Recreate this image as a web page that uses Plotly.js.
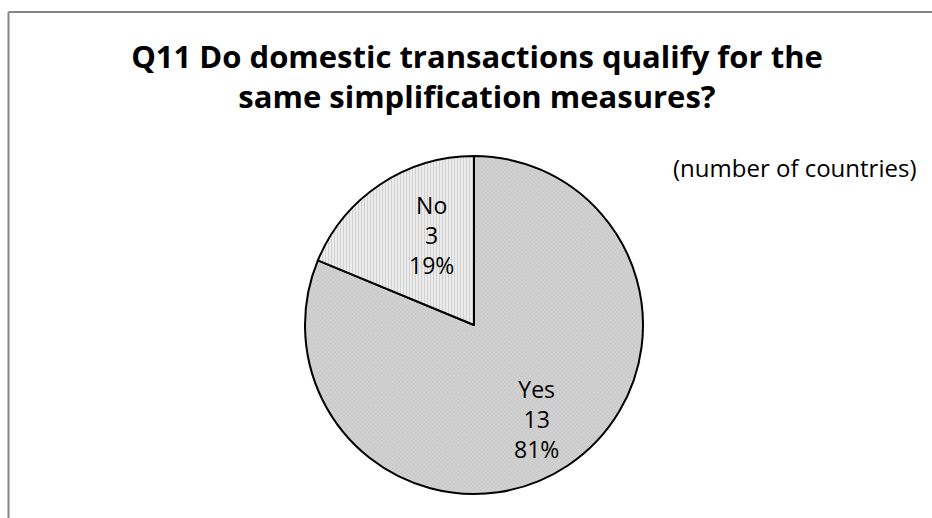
<!DOCTYPE html>
<html>
<head>
<meta charset="utf-8">
<script src="https://cdn.plot.ly/plotly-3.0.1.min.js"></script>
<style>html,body{margin:0;padding:0;background:#fff;}#chart{width:932px;height:518px;}</style>
</head>
<body>
<div id="chart"></div>
<script>
const categories = ["Yes", "No"];
const counts = [13, 3];
const sliceColors = ["#d2d2d2", "#ececec"];
const titleText = "Q11 Do domestic transactions qualify for the<br>same simplification measures?";
const unitNote = "(number of countries)";

const W = 932, H = 518;
// pie placement (pixels) -> paper domain
const cx = 474, cy = 325, R = 169;
const labelRadius = [0.67, 0.59];
const labelAngleShift = [0, 8.5]; // degrees, towards 12 o'clock for the small slice

const total = counts.reduce((a, b) => a + b, 0);
const annotations = [];
let cum = 0;
counts.forEach((v, i) => {
  const mid = (cum + v / 2) / total * 2 * Math.PI + labelAngleShift[i] * Math.PI / 180; // clockwise from 12 o'clock
  cum += v;
  const r = R * labelRadius[i];
  const px = cx + r * Math.sin(mid), py = cy - r * Math.cos(mid);
  annotations.push({
    text: categories[i] + "<br>" + v + "<br>" + Math.round(v / total * 100) + "%",
    xref: "paper", yref: "paper", x: px / W, y: 1 - py / H,
    xanchor: "center", yanchor: "middle", showarrow: false, align: "center",
    font: {family: "Open Sans, sans-serif", size: 23, color: "#000"}
  });
});
annotations.push({text: unitNote, xref: "paper", yref: "paper", x: 918 / W, y: 1 - 167 / H,
                  xanchor: "right", yanchor: "middle", showarrow: false,
                  font: {family: "Open Sans, sans-serif", size: 24, color: "#000"}});

const trace = {
  type: "pie",
  labels: categories,
  values: counts,
  sort: false,
  direction: "clockwise",
  rotation: 0,
  marker: {
    colors: sliceColors,
    line: {color: "#000", width: 2},
    pattern: {shape: ["x", "|"], fgcolor: ["#bdbdbd", "#c8c8c8"], bgcolor: sliceColors, size: 3, solidity: 0.25, fillmode: "replace"}
  },
  textinfo: "none",
  hoverinfo: "none",
  showlegend: false,
  domain: {x: [(cx - R) / W, (cx + R) / W], y: [1 - (cy + R) / H, 1 - (cy - R) / H]}
};

const layout = {
  width: W, height: H,
  margin: {l: 0, r: 0, t: 0, b: 0},
  paper_bgcolor: "#fff",
  title: {text: titleText, font: {family: "Open Sans, sans-serif", size: 31, color: "#000", weight: "bold"},
          x: 477 / W, xanchor: "center", y: 1 - 68 / H, yanchor: "middle"},
  annotations: annotations,
  shapes: [
    {type: "line", xref: "paper", yref: "paper", x0: 8.5 / W, x1: 8.5 / W, y0: 0, y1: 1 - 12 / H, line: {color: "#868686", width: 2}},
    {type: "line", xref: "paper", yref: "paper", x0: 8.5 / W, x1: 1, y0: 1 - 12 / H, y1: 1 - 12 / H, line: {color: "#868686", width: 2}}
  ]
};

Plotly.newPlot("chart", [trace], layout, {displayModeBar: false, staticPlot: true});
</script>
</body>
</html>
